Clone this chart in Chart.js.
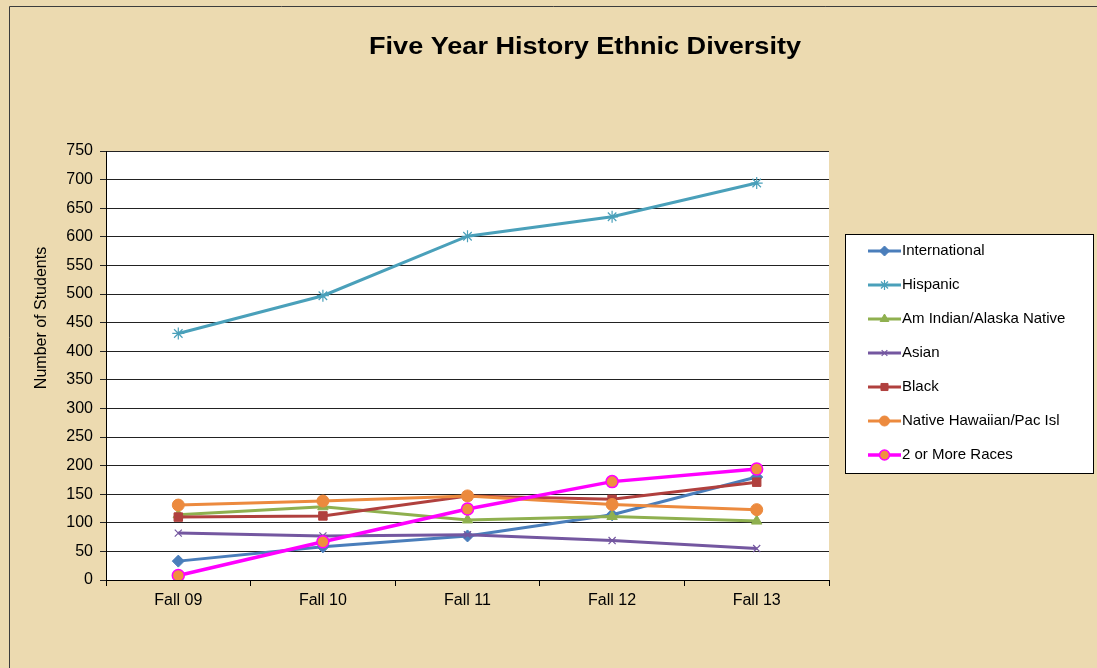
<!DOCTYPE html>
<html>
<head>
<meta charset="utf-8">
<script src="https://cdn.jsdelivr.net/npm/chart.js@4"></script>
<style>
  html, body { margin: 0; padding: 0; background: #ecdab0; }
  #wrap { width: 1097px; height: 668px; position: relative; }
</style>
</head>
<body>
<div id="wrap"><canvas id="chart"></canvas></div>
<script>
'use strict';

// ── Data ───────────────────────────────────────────────────────
const TERMS         = ['Fall 09', 'Fall 10', 'Fall 11', 'Fall 12', 'Fall 13'];
const INTERNATIONAL = [33, 58, 77, 114, 180];
const HISPANIC      = [431, 497, 601, 635, 694];
const AM_INDIAN     = [114, 128, 105, 111, 103];
const ASIAN         = [82, 77, 79, 69, 55];
const BLACK         = [110, 112, 147, 141, 171];
const NATIVE_HAW    = [131, 138, 147, 132, 123];
const MULTI_RACE    = [8, 67, 124, 172, 194];
const Y_TICKS       = { min: 0, max: 750, step: 50 };

const FONT = "'Liberation Sans', Arial, sans-serif";
Chart.defaults.font.family = FONT;
Chart.defaults.font.size   = 16;
Chart.defaults.color       = '#000';
Chart.defaults.animation   = false;

// ── Helpers ────────────────────────────────────────────────────
function series(label, values, color, pointStyle, extra = {}) {
  return {
    label,
    data:                 values,
    borderColor:          color,
    backgroundColor:      color,
    borderWidth:          3,
    pointStyle,
    pointRadius:          5,
    pointBorderColor:     color,
    pointBackgroundColor: color,
    pointBorderWidth:     1,
    tension:              0,
    fill:                 false,
    ...extra,
  };
}

const datasets = [
  series('International', INTERNATIONAL, '#4a7ebb', 'rectRot', { pointRadius: 6 }),
  series('Hispanic', HISPANIC, '#4aa0ba', 'star', { pointRadius: 6, pointBorderWidth: 1.2 }),
  series('Am Indian/Alaska Native', AM_INDIAN, '#8fb04f', 'triangle', { pointRadius: 6 }),
  series('Asian', ASIAN, '#7457a0', 'crossRot', { pointRadius: 5, pointBorderWidth: 1.2 }),
  series('Black', BLACK, '#b0403e', 'rect', { pointRadius: 6 }),
  series('Native Hawaiian/Pac Isl', NATIVE_HAW, '#ec8a3e', 'circle', { pointRadius: 6 }),
  series('2 or More Races', MULTI_RACE, '#ff00ff', 'circle', {
    borderWidth: 3.5, pointRadius: 6, pointBackgroundColor: '#f0903e', pointBorderWidth: 1.5,
  }),
].map((d, i, all) => ({ ...d, order: all.length - 1 - i }));

// ── Plugins ────────────────────────────────────────────────────
const backdrop = {
  id: 'backdrop',
  beforeDraw(chart) {
    const { ctx, chartArea: a, width, height } = chart;
    ctx.save();
    ctx.fillStyle = '#ecdab0';
    ctx.fillRect(0, 0, width, height);
    ctx.strokeStyle = '#3c3c3c';
    ctx.lineWidth = 1;
    ctx.beginPath();
    ctx.moveTo(9.5, height);
    ctx.lineTo(9.5, 6.5);
    ctx.lineTo(width, 6.5);
    ctx.stroke();
    ctx.fillStyle = '#ffffff';
    ctx.fillRect(a.left, a.top, a.right - a.left, a.bottom - a.top);
    ctx.restore();
  },
};

const texts = {
  id: 'texts',
  afterDraw(chart) {
    const { ctx } = chart;
    const title = 'Five Year History Ethnic Diversity';
    ctx.save();
    ctx.fillStyle = '#000';
    ctx.textAlign = 'center';
    ctx.textBaseline = 'middle';
    ctx.font = `bold 23px ${FONT}`;
    const sx = 432 / ctx.measureText(title).width;
    ctx.translate(585, 48);
    ctx.scale(sx, 1);
    ctx.fillText(title, 0, 0);
    ctx.restore();

    ctx.save();
    ctx.fillStyle = '#000';
    ctx.textAlign = 'center';
    ctx.textBaseline = 'middle';
    ctx.translate(42, 318);
    ctx.rotate(-Math.PI / 2);
    ctx.font = `16px ${FONT}`;
    ctx.fillText('Number of Students', 0, 0);
    ctx.restore();
  },
};

const boxLegend = {
  id: 'boxLegend',
  afterDraw(chart) {
    const { ctx } = chart;
    const box = { x: 845.5, y: 234.5, w: 248, h: 239 };
    ctx.save();
    ctx.fillStyle = '#ffffff';
    ctx.fillRect(box.x, box.y, box.w, box.h);
    ctx.strokeStyle = '#000';
    ctx.lineWidth = 1;
    ctx.strokeRect(box.x, box.y, box.w, box.h);
    chart.data.datasets.forEach((d, i) => {
      const y = 251 + i * 34;
      ctx.strokeStyle = d.borderColor;
      ctx.lineWidth = d.borderWidth;
      ctx.beginPath();
      ctx.moveTo(868, y);
      ctx.lineTo(901, y);
      ctx.stroke();
      ctx.fillStyle = d.pointBackgroundColor;
      ctx.strokeStyle = d.pointBorderColor;
      ctx.lineWidth = d.pointBorderWidth;
      Chart.helpers.drawPoint(ctx, {
        pointStyle: d.pointStyle, radius: d.pointRadius - 1, borderWidth: d.pointBorderWidth, rotation: 0,
      }, 884.5, y);
      ctx.fillStyle = '#000';
      ctx.font = `15px ${FONT}`;
      ctx.textAlign = 'left';
      ctx.textBaseline = 'middle';
      ctx.fillText(d.label, 902, y);
    });
    ctx.restore();
  },
};

// ── Chart ──────────────────────────────────────────────────────
new Chart(document.getElementById('chart'), {
  type: 'line',
  data: { labels: TERMS, datasets },
  plugins: [backdrop, texts, boxLegend],
  options: {
    responsive:          true,
    maintainAspectRatio: false,
    layout: { padding: { left: 0, top: 151, right: 268, bottom: 0 } },
    plugins: {
      legend:  { display: false },
      title:   { display: false },
      tooltip: { enabled: false },
    },
    scales: {
      x: {
        offset: true,
        border: { display: true, color: '#000', width: 1 },
        grid:   {
          display: true, offset: true, drawOnChartArea: false,
          drawTicks: true, tickLength: 6, color: '#000',
        },
        ticks:  { padding: 5, maxRotation: 0 },
        afterFit: s => { s.height = 88; },
      },
      y: {
        min: Y_TICKS.min,
        max: Y_TICKS.max,
        border: { display: true, color: '#000', width: 1 },
        grid:   { color: '#222', lineWidth: 1, tickLength: 6 },
        ticks:  { stepSize: Y_TICKS.step, padding: 7 },
        afterFit: s => { s.width = 106; },
      },
    },
  },
});
</script>
</body>
</html>
